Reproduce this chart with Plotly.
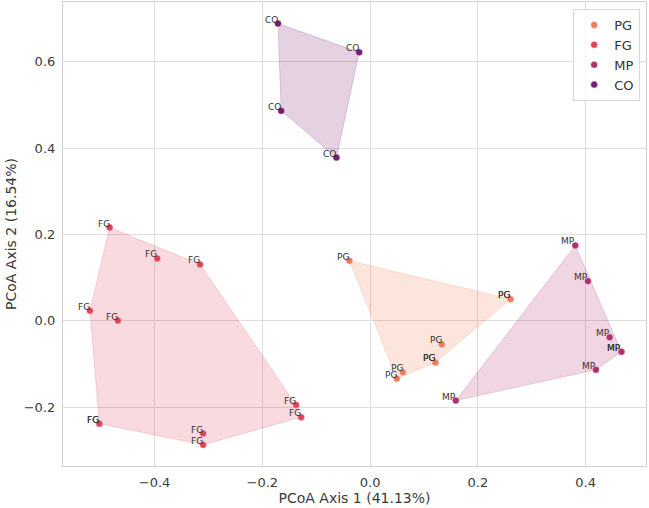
import plotly.graph_objects as go

groups = ["PG", "FG", "MP", "CO"]
colors = {"PG": "#ee7c57", "FG": "#e1445a", "MP": "#b0306d", "CO": "#761d6d"}
fills = {"PG": "rgba(238,124,87,0.2)", "FG": "rgba(225,68,90,0.2)",
         "MP": "rgba(176,48,109,0.2)", "CO": "rgba(118,29,109,0.2)"}

pg_x = [-0.0384, 0.260, 0.2605, 0.133, 0.1207, 0.1212, 0.0607, 0.0495]
pg_y = [0.139, 0.0505, 0.0502, -0.0544, -0.096, -0.0963, -0.119, -0.1337]

fg_x = [-0.4834, -0.395, -0.3157, -0.520, -0.468, -0.503, -0.5025, -0.310, -0.310, -0.1374, -0.128]
fg_y = [0.216, 0.1445, 0.1306, 0.0236, 0.0005, -0.2377, -0.2380, -0.2608, -0.287, -0.1946, -0.223]

mp_x = [0.3807, 0.4042, 0.4445, 0.466, 0.4665, 0.419, 0.159]
mp_y = [0.1746, 0.092, -0.038, -0.0713, -0.0716, -0.113, -0.1846]

co_x = [-0.171, -0.165, -0.0204, -0.0625]
co_y = [0.688, 0.486, 0.6215, 0.378]

data = {"PG": (pg_x, pg_y), "FG": (fg_x, fg_y), "MP": (mp_x, mp_y), "CO": (co_x, co_y)}


def hull(xs, ys):
    pts = sorted(set(zip(xs, ys)))
    if len(pts) <= 2:
        return pts

    def cross(o, a, b):
        return (a[0] - o[0]) * (b[1] - o[1]) - (a[1] - o[1]) * (b[0] - o[0])

    lower = []
    for p in pts:
        while len(lower) >= 2 and cross(lower[-2], lower[-1], p) <= 0:
            lower.pop()
        lower.append(p)
    upper = []
    for p in reversed(pts):
        while len(upper) >= 2 and cross(upper[-2], upper[-1], p) <= 0:
            upper.pop()
        upper.append(p)
    return lower[:-1] + upper[:-1]


fig = go.Figure()

for g in groups:
    xs, ys = data[g]
    h = hull(xs, ys)
    hx = [p[0] for p in h] + [h[0][0]]
    hy = [p[1] for p in h] + [h[0][1]]
    fig.add_trace(go.Scatter(x=hx, y=hy, mode="lines", fill="toself",
                             fillcolor=fills[g], line=dict(color=fills[g], width=1),
                             showlegend=False, hoverinfo="skip"))

for g in groups:
    xs, ys = data[g]
    fig.add_trace(go.Scatter(x=xs, y=ys, mode="markers", name=g,
                             marker=dict(color=colors[g], size=7,
                                         line=dict(color="white", width=0.5))))

annotations = []
for g in groups:
    xs, ys = data[g]
    for x, y in zip(xs, ys):
        annotations.append(dict(x=x, y=y, xref="x", yref="y", text=g, showarrow=False,
                                xanchor="right", yanchor="bottom", xshift=2, yshift=-3,
                                font=dict(family="DejaVu Sans", size=9, color="#333333")))

axis_common = dict(showgrid=True, gridcolor="#dddddd", gridwidth=1,
                   showline=True, linecolor="#d0d0d0", linewidth=1.2, mirror=True,
                   zeroline=False, ticks="outside", ticklen=4,
                   tickcolor="rgba(0,0,0,0)",
                   tickfont=dict(family="DejaVu Sans", size=13, color="#3a3a3a"))

fig.update_xaxes(range=[-0.570, 0.512], tickvals=[-0.4, -0.2, 0.0, 0.2, 0.4],
                 ticktext=["\u22120.4", "\u22120.2", "0.0", "0.2", "0.4"],
                 title=dict(text="PCoA Axis 1 (41.13%)", standoff=1,
                            font=dict(family="DejaVu Sans", size=14, color="#3a3a3a")),
                 **axis_common)
fig.update_yaxes(range=[-0.336, 0.738], tickvals=[-0.2, 0.0, 0.2, 0.4, 0.6],
                 ticktext=["\u22120.2", "0.0", "0.2", "0.4", "0.6"],
                 title=dict(text="PCoA Axis 2 (16.54%)", standoff=3,
                            font=dict(family="DejaVu Sans", size=14, color="#3a3a3a")),
                 **axis_common)

fig.update_layout(
    width=649, height=508,
    margin=dict(l=63, r=3, t=2, b=42),
    plot_bgcolor="white", paper_bgcolor="white",
    annotations=annotations,
    legend=dict(x=0.99, y=0.985, xanchor="right", yanchor="top",
                bgcolor="rgba(255,255,255,0.8)", bordercolor="#d8d8d8", borderwidth=1,
                font=dict(family="DejaVu Sans", size=13, color="#333333"),
                itemwidth=30),
    showlegend=True,
)

fig.write_html("out.html")
